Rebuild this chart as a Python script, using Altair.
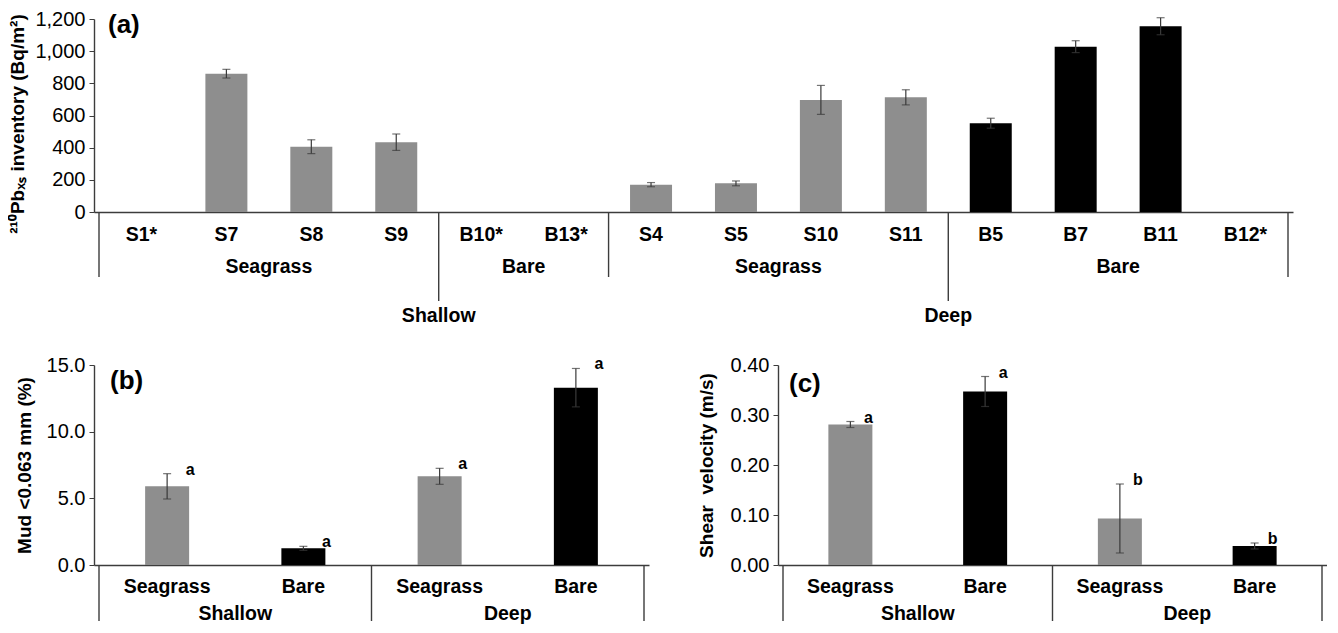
import altair as alt
import pandas as pd

# ---------------- data: panel (a) ----------------
sites_a = ["S1*", "S7", "S8", "S9", "B10*", "B13*", "S4", "S5", "S10", "S11",
           "B5", "B7", "B11", "B12*"]
habitat_a = ["Seagrass", "Seagrass", "Seagrass", "Seagrass", "Bare", "Bare",
             "Seagrass", "Seagrass", "Seagrass", "Seagrass",
             "Bare", "Bare", "Bare", "Bare"]
depth_a = ["Shallow"] * 6 + ["Deep"] * 8
pb_inventory = [None, 860, 406, 434, None, None, 170, 178, 697, 713, 552, 1028, 1155, None]
pb_error = [None, 27, 43, 51, None, None, 13, 15, 90, 47, 31, 37, 53, None]

# ---------------- data: panels (b) and (c) ----------------
habitat_bc = ["Seagrass", "Bare", "Seagrass", "Bare"]
depth_bc = ["Shallow", "Shallow", "Deep", "Deep"]
mud = [5.9, 1.25, 6.65, 13.3]
mud_err = [0.95, 0.15, 0.6, 1.44]
mud_letters = ["a", "a", "a", "a"]
shear = [0.281, 0.347, 0.093, 0.038]
shear_err = [0.006, 0.030, 0.069, 0.006]
shear_letters = ["a", "a", "b", "b"]

panel_tags = ["(a)", "(b)", "(c)"]
y_titles = ["²¹⁰Pbₓₛ inventory (Bq/m²)", "Mud <0.063 mm (%)",
            "Shear\u00a0\u00a0velocity (m/s)"]

# ---------------- style ----------------
FONT = "Liberation Sans"
GRAY = "#8e8e8e"
BLACK = "#000000"
AXC = "#3c3c3c"
ERRC = "#3a3a3a"


def runs(keys):
    out = []
    start = 0
    for i in range(1, len(keys) + 1):
        if i == len(keys) or keys[i] != keys[start]:
            out.append((keys[start], start, i - 1))
            start = i
    return out


def build_panel(df, n, width, height, ydom, yvals, yfmt, ytitle, tag, tagxy,
                bar_size, groups, short_seps, long_seps, outers,
                cat_off, grp_off, short_len, long_len, outer_off,
                title_pad, title_shift=0, letter_dx=None):
    xscale = alt.Scale(domain=[-0.5, n - 0.5], nice=False, zero=False)
    xaxis = alt.Axis(labels=False, ticks=False, grid=False, title=None,
                     domainColor=AXC, domainWidth=1.4)
    yscale = alt.Scale(domain=ydom, nice=False, zero=True)
    yaxis = alt.Axis(values=yvals, format=yfmt, title=ytitle, grid=False,
                     titleFont=FONT, titleFontSize=19, titleFontWeight="bold",
                     titleColor="black", titlePadding=title_pad,
                     titleY=height / 2 + title_shift,
                     labelFont=FONT, labelFontSize=20, labelColor="black",
                     labelPadding=4, tickSize=5, tickColor=AXC,
                     domainColor=AXC, domainWidth=1.4)

    def X(f):
        return alt.X(f"{f}:Q", scale=xscale, axis=xaxis)

    def Y(f):
        return alt.Y(f"{f}:Q", scale=yscale, axis=yaxis)

    bdf = df.dropna(subset=["value"]).copy()
    bdf["lo"] = bdf["value"] - bdf["err"]
    bdf["hi"] = bdf["value"] + bdf["err"]

    color = alt.Color("habitat:N", scale=alt.Scale(domain=["Seagrass", "Bare"],
                                                   range=[GRAY, BLACK]), legend=None)
    bars = alt.Chart(bdf).mark_bar(size=bar_size).encode(x=X("idx"), y=Y("value"), color=color)
    err = alt.Chart(bdf).mark_rule(color=ERRC, strokeWidth=1.2).encode(
        x=X("idx"), y=Y("lo"), y2=alt.Y2("hi:Q"))
    cap_hi = alt.Chart(bdf).mark_tick(orient="horizontal", size=8, thickness=1.2,
                                      color=ERRC).encode(x=X("idx"), y=Y("hi"))
    cap_lo = alt.Chart(bdf).mark_tick(orient="horizontal", size=8, thickness=1.2,
                                      color=ERRC).encode(x=X("idx"), y=Y("lo"))

    cat_lab = alt.Chart(df).mark_text(font=FONT, fontWeight="bold", fontSize=19.5,
                                      baseline="middle", color="black").encode(
        x=X("idx"), y=alt.value(height + cat_off), text="label:N")
    layers = [bars, err, cap_hi, cap_lo, cat_lab]

    if groups is not None:
        layers.append(alt.Chart(groups).mark_text(
            font=FONT, fontWeight="bold", fontSize=19.5, baseline="middle", color="black").encode(
            x=X("pos"), y=alt.value(height + grp_off), text="name:N"))
    layers.append(alt.Chart(short_seps).mark_rule(color=AXC, strokeWidth=1.4).encode(
        x=X("pos"), y=alt.value(height), y2=alt.value(height + short_len)))
    if long_seps is not None:
        layers.append(alt.Chart(long_seps).mark_rule(color=AXC, strokeWidth=1.4).encode(
            x=X("pos"), y=alt.value(height), y2=alt.value(height + long_len)))
    layers.append(alt.Chart(outers).mark_text(
        font=FONT, fontWeight="bold", fontSize=19.5, baseline="middle", color="black").encode(
        x=X("pos"), y=alt.value(height + outer_off), text="name:N"))

    if letter_dx is not None:
        layers.append(alt.Chart(bdf).mark_text(
            font=FONT, fontWeight="bold", fontSize=16, baseline="middle", align="center",
            dx=letter_dx, dy=-4, color="black").encode(
            x=X("idx"), y=Y("hi"), text="letter:N"))

    layers.append(alt.Chart(pd.DataFrame({"t": [tag]})).mark_text(
        font=FONT, fontWeight="bold", fontSize=26, align="left", baseline="middle",
        color="black").encode(x=alt.value(tagxy[0]), y=alt.value(tagxy[1]), text="t:N"))

    return alt.layer(*layers).properties(width=width, height=height)


# ---------------- panel (a) ----------------
n_a = len(sites_a)
df_a = pd.DataFrame({"idx": list(range(n_a)), "label": sites_a, "habitat": habitat_a,
                     "depth": depth_a, "value": pb_inventory, "err": pb_error})
inner_a = runs(list(zip(depth_a, habitat_a)))
groups_a = pd.DataFrame({"name": [k[1] for k, s, e in inner_a],
                         "pos": [(s + e) / 2 for k, s, e in inner_a]})
# boundary between first and second habitat group of each depth
long_pos, outer_names = [], []
for dname, ds, de in runs(depth_a):
    sub = [r for r in inner_a if r[1] >= ds and r[2] <= de]
    long_pos.append(sub[0][2] + 0.5)
    outer_names.append(dname)
all_bounds = [-0.5] + [e + 0.5 for k, s, e in inner_a]
short_a = pd.DataFrame({"pos": [b for b in all_bounds if b not in long_pos]})
long_a = pd.DataFrame({"pos": long_pos})
outer_a = pd.DataFrame({"name": outer_names, "pos": long_pos})

pa = build_panel(df_a, n_a, 1199, 193, [0, 1200], list(range(0, 1201, 200)), ",d",
                 y_titles[0], panel_tags[0], (14, 6), 42, groups_a, short_a, long_a,
                 outer_a, 23, 55, 65, 89, 104, 7, title_shift=8)


# ---------------- panels (b), (c) ----------------
def bc_frames(values, errs, letters):
    n = len(values)
    df = pd.DataFrame({"idx": list(range(n)), "label": habitat_bc, "habitat": habitat_bc,
                       "depth": depth_bc, "value": values, "err": errs, "letter": letters})
    druns = runs(depth_bc)
    outer = pd.DataFrame({"name": [k for k, s, e in druns],
                          "pos": [(s + e) / 2 for k, s, e in druns]})
    seps = pd.DataFrame({"pos": [-0.5] + [e + 0.5 for k, s, e in druns]})
    return df, outer, seps


df_b, outer_b, seps_b = bc_frames(mud, mud_err, mud_letters)
pb = build_panel(df_b, 4, 555, 200, [0, 15], [0, 5, 10, 15], ".1f", y_titles[1],
                 panel_tags[1], (16, 16), 44, None, seps_b, None, outer_b,
                 22, 0, 56, 0, 49, 12, letter_dx=23)

df_c, outer_c, seps_c = bc_frames(shear, shear_err, shear_letters)
pc = build_panel(df_c, 4, 549, 200, [0, 0.4], [0, 0.1, 0.2, 0.3, 0.4], ".2f", y_titles[2],
                 panel_tags[2], (11, 19), 44, None, seps_c, None, outer_c,
                 22, 0, 56, 0, 49, 14, letter_dx=18)

chart = alt.vconcat(pa, alt.hconcat(pb, pc, spacing=48), spacing=29).properties(
    padding={"top": 1, "left": 0, "right": 0, "bottom": 0}).configure_view(stroke=None)

chart.save("out.html", embed_options={"renderer": "svg", "actions": False})
